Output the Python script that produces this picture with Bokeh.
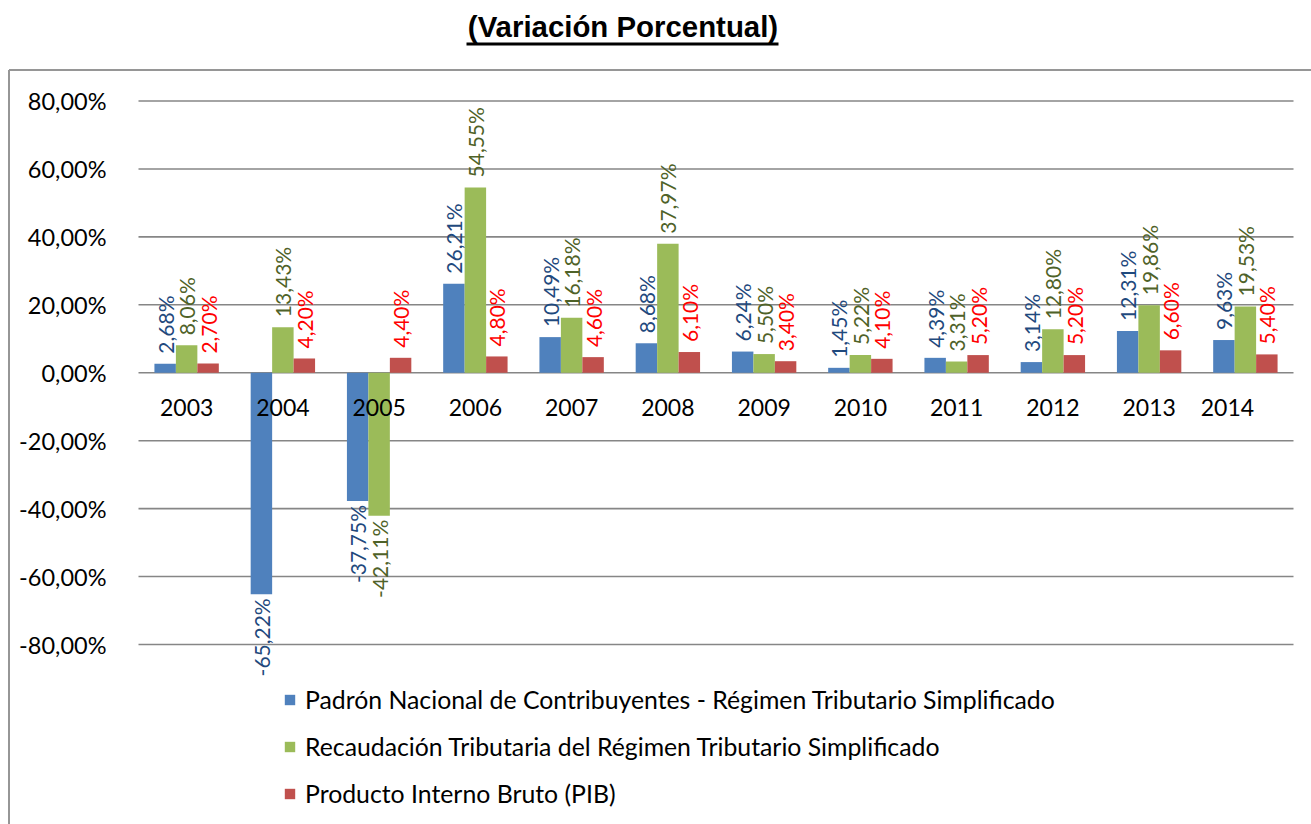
import math
from bokeh.plotting import figure
from bokeh.models import (ColumnDataSource, Range1d, FixedTicker,
                          CustomJSTickFormatter, Legend, LegendItem)
from bokeh.transform import dodge
from bokeh.core.properties import value
from bokeh.embed import file_html
from bokeh.resources import INLINE

# ---------------- data ----------------
years = ["2003", "2004", "2005", "2006", "2007", "2008",
         "2009", "2010", "2011", "2012", "2013", "2014"]
padron = [2.68, -65.22, -37.75, 26.21, 10.49, 8.68, 6.24, 1.45, 4.39, 3.14, 12.31, 9.63]
recaudacion = [8.06, 13.43, -42.11, 54.55, 16.18, 37.97, 5.50, 5.22, 3.31, 12.80, 19.86, 19.53]
pib = [2.70, 4.20, 4.40, 4.80, 4.60, 6.10, 3.40, 4.10, 5.20, 5.20, 6.60, 5.40]
series_names = [
    "Padrón Nacional de Contribuyentes - Régimen Tributario Simplificado",
    "Recaudación Tributaria del Régimen Tributario Simplificado",
    "Producto Interno Bruto (PIB)",
]
y_ticks = [-80, -60, -40, -20, 0, 20, 40, 60, 80]
title_text = "(Variación Porcentual)"

# ---------------- layout (pixels) ----------------
W, H = 1311, 824
PLOT_L, PLOT_R = 138, 1293          # horizontal extent of the category area
Y_TOP_PX, Y_BOT_PX = 100.5, 644.0   # pixel rows of the top / bottom gridline
n = len(years)
ux = (PLOT_R - PLOT_L) / n
ky = (Y_BOT_PX - Y_TOP_PX) / (max(y_ticks) - min(y_ticks))


def xd(px):
    return -0.5 + (px - PLOT_L) / ux


def yd(py):
    return max(y_ticks) - (py - Y_TOP_PX) / ky


FONT = "Lato"
bar_colors = ["#4F81BD", "#9BBB59", "#C0504D"]
label_colors = ["#1F497D", "#4F6228", "#FF0000"]
offsets = [-0.223, 0.0, 0.223]
bar_w = 0.223
idx = list(range(n))
# horizontal nudge of the category labels (the last one sits left, as in the original)
cat_dx = [0] * (n - 1) + [-18]


def fmt(v):
    return ("%.2f" % v).replace(".", ",") + "%"


p = figure(x_range=Range1d(xd(0), xd(W)), y_range=Range1d(yd(H), yd(0)),
           width=W, height=H, output_backend="svg", toolbar_location=None,
           min_border_left=0, min_border_right=0, min_border_top=0,
           min_border_bottom=0)
p.outline_line_color = None
p.background_fill_color = "white"
p.border_fill_color = "white"
p.xaxis.visible = False
p.xgrid.visible = False
p.ygrid.visible = False

# y axis drawn at the left edge of the category area
p.yaxis.fixed_location = -0.5
p.yaxis.ticker = FixedTicker(ticks=y_ticks)
p.yaxis.formatter = CustomJSTickFormatter(code="return tick.toFixed(2).replace('.', ',') + '%';")
p.yaxis.axis_line_color = None
p.yaxis.major_tick_line_color = None
p.yaxis.minor_tick_line_color = None
p.yaxis.major_label_standoff = 26
p.yaxis.major_label_text_font = FONT
p.yaxis.major_label_text_font_size = "23.5px"
p.yaxis.major_label_text_color = "black"

# horizontal gridlines spanning the category area
p.segment(x0=[-0.5] * len(y_ticks), x1=[n - 0.5] * len(y_ticks), y0=y_ticks, y1=y_ticks,
          line_color="#868686", line_width=1.6)

renderers = []
for vals, off, col, lcol in zip([padron, recaudacion, pib], offsets, bar_colors, label_colors):
    src = ColumnDataSource(dict(idx=idx, val=vals))
    r = p.vbar(x=dodge("idx", off), top="val", bottom=0, width=bar_w,
               source=src, fill_color=col, line_color=None)
    renderers.append(r)
    pos = [(i, v) for i, v in zip(idx, vals) if v >= 0]
    neg = [(i, v) for i, v in zip(idx, vals) if v < 0]
    if pos:
        ps = ColumnDataSource(dict(idx=[a for a, _ in pos], val=[b for _, b in pos],
                                   lab=[fmt(b) for _, b in pos]))
        p.text(x=dodge("idx", off), y="val", text="lab", source=ps,
               angle=math.pi / 2, text_align="left", text_baseline="middle",
               y_offset=-10, text_color=lcol, text_font=value(FONT), text_font_size="21px")
    if neg:
        ns = ColumnDataSource(dict(idx=[a for a, _ in neg], val=[b for _, b in neg],
                                   lab=[fmt(b) for _, b in neg]))
        p.text(x=dodge("idx", off), y="val", text="lab", source=ns,
               angle=math.pi / 2, text_align="right", text_baseline="middle",
               y_offset=4, text_color=lcol, text_font=value(FONT), text_font_size="21px")

# category labels next to the zero line
cat_src = ColumnDataSource(dict(idx=idx, y=[0] * n, year=years, dx=cat_dx))
p.text(x="idx", y="y", text="year", source=cat_src, text_align="center",
       text_baseline="middle", x_offset="dx", y_offset=35, text_color="black",
       text_font=value(FONT), text_font_size="23px")

legend = Legend(items=[LegendItem(label=s, renderers=[r]) for s, r in zip(series_names, renderers)],
                location=(283, 16), orientation="vertical", padding=0, margin=0,
                spacing=18, glyph_width=13, glyph_height=13, label_standoff=9,
                label_text_font=FONT, label_text_font_size="24.8px",
                label_text_color="black", border_line_color=None,
                background_fill_alpha=0)
p.add_layout(legend, "center")

# outer chart border (top and left edges are inside the picture)
p.segment(x0=[xd(8.5), xd(8.5)], y0=[yd(69.5), yd(69.5)],
          x1=[xd(W + 5), xd(8.5)], y1=[yd(69.5), yd(H + 5)],
          line_color="#969696", line_width=2)

# title with underline
p.text(x=[xd(622.5)], y=[yd(26)], text=[title_text], text_align="center",
       text_baseline="alphabetic", text_font=value("Liberation Sans"),
       text_font_style="bold", text_font_size="29.4px", text_color="black")
p.quad(left=[xd(466)], right=[xd(778)], top=[yd(42)], bottom=[yd(45)],
       fill_color="black", line_color=None)

open("out.html", "w").write(file_html(p, INLINE))
